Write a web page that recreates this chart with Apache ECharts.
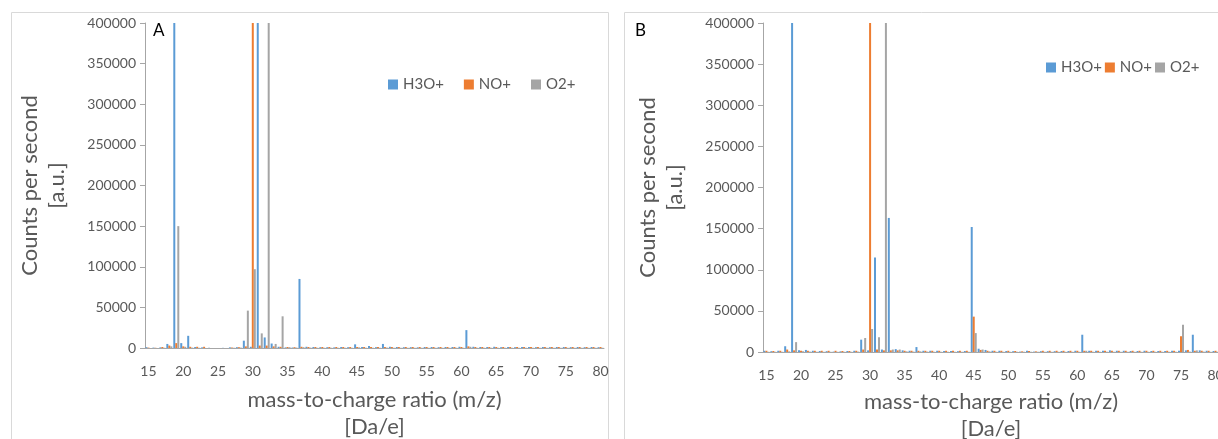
<!DOCTYPE html>
<html>
<head>
<meta charset="utf-8">
<title>Reagent ion spectra</title>
<script src="https://cdn.jsdelivr.net/npm/echarts@6/dist/echarts.min.js"></script>
<style>
  html, body { margin: 0; padding: 0; background: #fff; overflow: hidden; }
  #chart { width: 1218px; height: 439px; }
</style>
</head>
<body>
<div id="chart"></div>
<script>
// m/z categories 15..80
const mz = [15,16,17,18,19,20,21,22,23,24,25,26,27,28,29,30,31,32,33,34,35,36,37,38,39,40,41,42,43,44,45,46,47,48,49,50,51,52,53,54,55,56,57,58,59,60,61,62,63,64,65,66,67,68,69,70,71,72,73,74,75,76,77,78,79,80];
const seriesNames = ['H3O+', 'NO+', 'O2+'];
const yTicks = [0, 50000, 100000, 150000, 200000, 250000, 300000, 350000, 400000];

// panel A (peaks above 400000 are cut at the top of the axis)
const h3oA = [1000,500,800,5000,400000,6000,15000,1200,800,300,0,200,800,1000,9000,1500,400000,13000,5500,1500,800,600,85000,1500,1200,1000,1000,800,1200,1000,4500,1200,2500,1000,5000,1500,1200,1000,1000,800,1200,1200,1000,1200,1200,1500,22000,1500,1200,1200,1500,1000,1200,1000,1200,1200,1000,1200,1000,1200,1200,1000,1200,1000,1200,1000];
const noA  = [500,300,1200,3000,6000,2000,1500,1500,1500,0,0,0,600,1000,2000,400000,3000,3000,2000,1500,1200,1000,1500,1200,1200,1200,1200,1200,1200,1200,1200,1200,1200,1200,1200,1200,1200,1200,1200,1200,1200,1200,1200,1200,1200,1200,2000,1200,1200,1200,1200,1200,1200,1200,1200,1200,1200,1200,1200,1200,1200,1200,1200,1200,1200,1200];
const o2A  = [0,0,300,2000,150000,1500,500,300,0,0,0,0,300,500,46000,97000,18000,400000,5000,39000,1000,500,1000,500,300,300,300,300,300,300,800,300,300,300,500,300,300,300,300,300,300,300,300,300,300,300,1500,300,300,300,300,300,300,300,300,300,300,300,300,300,300,300,300,300,300,300];

// panel B
const h3oB = [1500,1000,1500,7000,400000,2000,2500,1500,1200,1000,500,800,1200,1500,15000,2000,115000,3000,163000,3500,2000,1500,6000,1500,1500,1500,1200,1200,1000,1200,152000,4000,2500,1500,1500,1200,1000,500,1500,500,1000,1000,1000,1200,1200,1500,21000,1500,1500,1500,2000,1500,1500,1200,1200,1500,1200,1200,1200,1500,1500,2000,21000,2000,1500,1200];
const noB  = [1500,1200,1500,3000,2000,1500,1500,1500,1500,1500,1500,1200,1200,1500,3000,400000,3000,2000,2000,2000,1500,1500,1500,1500,1500,1500,1500,1500,1500,1500,43000,2500,1500,1500,1500,1500,1200,800,1200,800,1500,1500,1500,1500,1500,1500,1500,1500,1500,1500,1500,1500,1500,1500,1500,1500,1500,1500,1500,1500,19000,2500,1500,1500,1500,1500];
const o2B  = [300,300,300,800,12000,800,500,300,300,300,300,300,300,500,17000,28000,18000,400000,3000,3000,800,500,800,500,300,300,300,300,300,300,23000,3000,800,300,300,300,300,300,300,300,300,300,300,300,300,300,1500,300,300,300,300,300,300,300,300,300,300,300,300,300,33000,500,2000,500,300,300];

const colors = ['#5B9BD5', '#ED7D31', '#A5A5A5'];
const font = 'Lato';
const gray = '#595959';

function xAxisFor(gridIndex, gap) {
    return {
        gridIndex: gridIndex,
        type: 'category',
        data: mz,
        name: 'mass-to-charge ratio (m/z)\n[Da/e]',
        nameLocation: 'middle',
        nameGap: gap,
        nameTextStyle: { fontFamily: font, fontSize: 22, color: gray, lineHeight: 27 },
        axisLine: { lineStyle: { color: '#a6a6a6' } },
        axisTick: { interval: 4, length: 5, lineStyle: { color: '#a6a6a6' } },
        axisLabel: { interval: 4, margin: 16, fontFamily: font, fontSize: 14, color: gray },
        splitLine: { show: false }
    };
}

function yAxisFor(gridIndex) {
    return {
        gridIndex: gridIndex,
        type: 'value',
        min: yTicks[0],
        max: yTicks[yTicks.length - 1],
        interval: yTicks[1] - yTicks[0],
        name: 'Counts per second\n[a.u.]',
        nameLocation: 'middle',
        nameGap: 75,
        nameTextStyle: { fontFamily: font, fontSize: 22, color: gray, lineHeight: 27 },
        axisLine: { show: true, lineStyle: { color: '#a6a6a6' } },
        axisTick: { show: true, length: 5, lineStyle: { color: '#a6a6a6' } },
        axisLabel: { margin: 9, fontFamily: font, fontSize: 14, color: gray, formatter: v => String(v) },
        splitLine: { show: false }
    };
}

function barSeries(name, data, idx, axisIndex) {
    return {
        name: name,
        type: 'bar',
        xAxisIndex: axisIndex,
        yAxisIndex: axisIndex,
        data: data,
        barWidth: 2,
        barGap: '0%',
        clip: true,
        itemStyle: { color: colors[idx] },
        animation: false
    };
}

const chart = echarts.init(document.getElementById('chart'));

chart.setOption({
    animation: false,
    color: colors,
    grid: [
        { left: 145, top: 23, width: 459, height: 325, outerBoundsMode: 'none', containLabel: false },
        { left: 763, top: 23, width: 456, height: 329, outerBoundsMode: 'none', containLabel: false }
    ],
    legend: [
        {
            data: seriesNames, left: 383, top: 72, itemWidth: 10, itemHeight: 10, itemGap: 20,
            icon: 'rect', textStyle: { fontFamily: font, fontSize: 15, color: gray }
        },
        {
            data: seriesNames, left: 1041, top: 55, itemWidth: 10, itemHeight: 10, itemGap: 3,
            icon: 'rect', textStyle: { fontFamily: font, fontSize: 15, color: gray }
        }
    ],
    xAxis: [xAxisFor(0, 38), xAxisFor(1, 36)],
    yAxis: [yAxisFor(0), yAxisFor(1)],
    series: [
        barSeries('H3O+', h3oA, 0, 0),
        barSeries('NO+', noA, 1, 0),
        barSeries('O2+', o2A, 2, 0),
        barSeries('H3O+', h3oB, 0, 1),
        barSeries('NO+', noB, 1, 1),
        barSeries('O2+', o2B, 2, 1)
    ],
    graphic: [
        // panel frames
        { type: 'rect', shape: { x: 11.5, y: 12.5, width: 597, height: 440 }, style: { fill: 'none', stroke: '#d9d9d9', lineWidth: 1 }, silent: true, z: -1 },
        { type: 'rect', shape: { x: 624.5, y: 12.5, width: 610, height: 440 }, style: { fill: 'none', stroke: '#d9d9d9', lineWidth: 1 }, silent: true, z: -1 },
        { type: 'text', left: 153, top: 22, style: { text: 'A', fontFamily: font, fontSize: 17, fill: '#000' } },
        { type: 'text', left: 635, top: 22, style: { text: 'B', fontFamily: font, fontSize: 17, fill: '#000' } }
    ]
});
</script>
</body>
</html>
